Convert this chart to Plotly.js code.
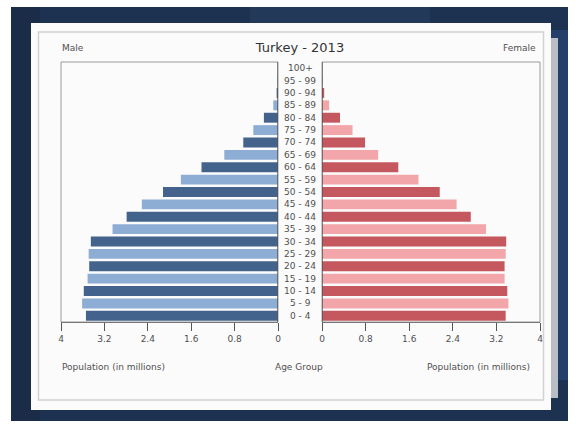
<!DOCTYPE html>
<html>
<head>
<meta charset="utf-8">
<script src="https://cdn.plot.ly/plotly-3.0.1.min.js"></script>
<style>html,body{margin:0;padding:0;background:#fff;}#chart{width:576px;height:425px;}</style>
</head>
<body>
<div id="chart"></div>
<script>
// ---- data ----
const ageGroups = ["0 - 4","5 - 9","10 - 14","15 - 19","20 - 24","25 - 29","30 - 34","35 - 39","40 - 44","45 - 49","50 - 54","55 - 59","60 - 64","65 - 69","70 - 74","75 - 79","80 - 84","85 - 89","90 - 94","95 - 99","100+"];
const maleMillions = [3.54,3.61,3.58,3.51,3.48,3.49,3.45,3.05,2.79,2.51,2.12,1.79,1.41,0.99,0.64,0.455,0.26,0.087,0.025,0.006,0.001];
const femaleMillions = [3.37,3.42,3.40,3.35,3.35,3.37,3.38,3.01,2.73,2.47,2.16,1.77,1.40,1.03,0.79,0.56,0.33,0.13,0.04,0.01,0.002];
const tickValues = [0,0.8,1.6,2.4,3.2,4];
const tickLabels = ["0","0.8","1.6","2.4","3.2","4"];

// ---- layout helpers ----
const W = 576, H = 425;
const px = x => x / W;
const py = y => 1 - y / H;

const maleColors = ageGroups.map((_, i) => i % 2 === 0 ? '#44638c' : '#8eadd4');
const femaleColors = ageGroups.map((_, i) => i % 2 === 0 ? '#c4585e' : '#f2a6a9');

const FONT = 'DejaVu Sans, Liberation Sans, sans-serif';
const TXT = '#505050';

const traces = [
  {type:'bar', orientation:'h', y:ageGroups, x:maleMillions, xaxis:'x', yaxis:'y',
   marker:{color:maleColors, line:{width:0}}, hoverinfo:'x+y', name:'Male'},
  {type:'bar', orientation:'h', y:ageGroups, x:femaleMillions, xaxis:'x2', yaxis:'y2',
   marker:{color:femaleColors, line:{width:0}}, hoverinfo:'x+y', name:'Female'}
];

const xCommon = {
  tickvals: tickValues, ticktext: tickLabels, ticks:'outside', ticklen:8, tickwidth:1,
  tickcolor:'#555', showline:true, linecolor:'#555', linewidth:1, showgrid:false,
  zeroline:false, tickfont:{family:FONT, size:9, color:TXT}, fixedrange:true
};
const yCommon = {
  type:'category', categoryorder:'array', categoryarray:ageGroups, range:[-0.5, 20.5],
  domain:[py(322), py(62)], showticklabels:false, ticks:'', showline:false,
  showgrid:false, zeroline:false, fixedrange:true
};

const annotations = [];
ageGroups.forEach(a => annotations.push({
  text:a, x:px(300), xref:'paper', y:a, yref:'y', showarrow:false,
  xanchor:'center', yanchor:'middle', font:{family:FONT, size:9, color:TXT}
}));
annotations.push(
  {text:'Male', x:px(60), y:py(48), xref:'paper', yref:'paper', showarrow:false, xanchor:'left', yanchor:'middle', font:{family:FONT, size:9, color:TXT}},
  {text:'Female', x:px(538), y:py(48), xref:'paper', yref:'paper', showarrow:false, xanchor:'right', yanchor:'middle', font:{family:FONT, size:9, color:TXT}},
  {text:'Population (in millions)', x:px(60), y:py(367), xref:'paper', yref:'paper', showarrow:false, xanchor:'left', yanchor:'middle', font:{family:FONT, size:9, color:TXT}},
  {text:'Age Group', x:px(299), y:py(367), xref:'paper', yref:'paper', showarrow:false, xanchor:'center', yanchor:'middle', font:{family:FONT, size:9, color:TXT}},
  {text:'Population (in millions)', x:px(532), y:py(367), xref:'paper', yref:'paper', showarrow:false, xanchor:'right', yanchor:'middle', font:{family:FONT, size:9, color:TXT}}
);

const shapes = [
  // dark desktop backdrop
  {type:'rect', xref:'paper', yref:'paper', x0:px(11), x1:px(568), y0:py(421), y1:py(7), fillcolor:'#1d3150', line:{width:0}, layer:'below'},
  {type:'rect', xref:'paper', yref:'paper', x0:px(11), x1:px(40), y0:py(421), y1:py(7), fillcolor:'#1a2c48', line:{width:0}, layer:'below'},
  {type:'rect', xref:'paper', yref:'paper', x0:px(250), x1:px(430), y0:py(23), y1:py(7), fillcolor:'#23395a', line:{width:0}, layer:'below'},
  {type:'rect', xref:'paper', yref:'paper', x0:px(540), x1:px(568), y0:py(380), y1:py(30), fillcolor:'#24406a', line:{width:0}, layer:'below'},
  // white window frame
  {type:'rect', xref:'paper', yref:'paper', x0:px(31), x1:px(551), y0:py(410), y1:py(23), fillcolor:'#fbfbfb', line:{width:0}, layer:'below'},
  // right shadow strip
  {type:'rect', xref:'paper', yref:'paper', x0:px(551), x1:px(558), y0:py(398), y1:py(38), fillcolor:'#b9bec6', line:{width:0}, layer:'below'},
  // inner border
  {type:'rect', xref:'paper', yref:'paper', x0:px(38.5), x1:px(543.5), y0:py(400), y1:py(32), fillcolor:'rgba(0,0,0,0)', line:{color:'#d2d2d2', width:1.5}, layer:'below'},
  // plot boxes
  {type:'rect', xref:'x domain', yref:'y domain', x0:0, x1:1, y0:0, y1:1, line:{color:'#9a9a9a', width:1}, layer:'above'},
  {type:'rect', xref:'x2 domain', yref:'y2 domain', x0:0, x1:1, y0:0, y1:1, line:{color:'#9a9a9a', width:1}, layer:'above'},
  // center axis lines
  {type:'line', xref:'x', yref:'y domain', x0:0, x1:0, y0:0, y1:1, line:{color:'#333', width:1}},
  {type:'line', xref:'x2', yref:'y2 domain', x0:0, x1:0, y0:0, y1:1, line:{color:'#333', width:1}}
];

const layout = {
  width:W, height:H, margin:{l:0, r:0, t:0, b:0, pad:0},
  paper_bgcolor:'#ffffff', plot_bgcolor:'#ffffff', showlegend:false, bargap:0.2,
  title:{text:'Turkey - 2013', x:px(300), y:py(47), xref:'paper', yref:'paper', xanchor:'center', yanchor:'middle', font:{family:FONT, size:13, color:'#333'}},
  xaxis:Object.assign({}, xCommon, {domain:[px(61), px(278)], range:[4, 0], anchor:'y'}),
  xaxis2:Object.assign({}, xCommon, {domain:[px(322), px(540)], range:[0, 4], anchor:'y2'}),
  yaxis:Object.assign({}, yCommon, {anchor:'x'}),
  yaxis2:Object.assign({}, yCommon, {anchor:'x2'}),
  annotations:annotations, shapes:shapes
};

Plotly.newPlot('chart', traces, layout, {displayModeBar:false, staticPlot:true});
</script>
</body>
</html>
